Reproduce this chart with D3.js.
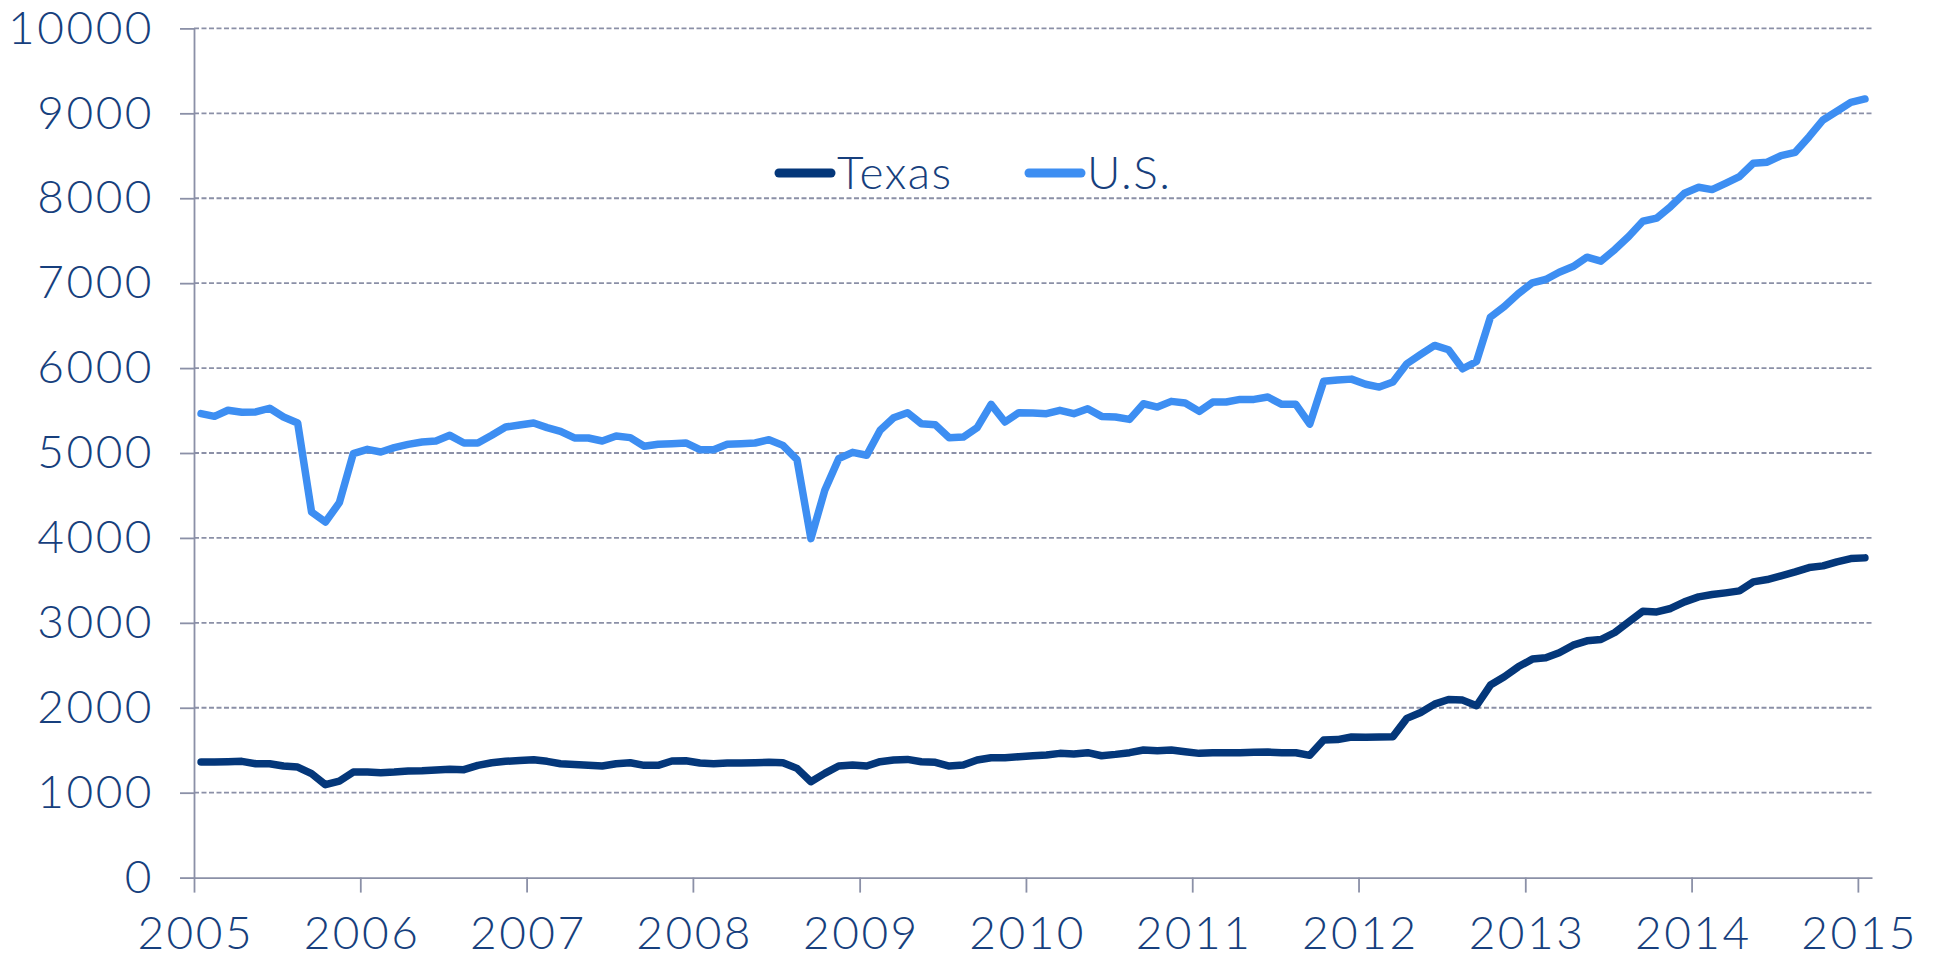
<!DOCTYPE html>
<html>

<head>
    <style>
    body { margin: 0; background: #fff; }
    svg text { font-family: Lato, "Open Sans", sans-serif; font-weight: 300; fill: #173f7d; }
    </style>
</head>

<body>
    <svg width="1938" height="958"></svg>
    <script src="https://d3js.org/d3.v7.min.js"></script>
    <script>

        // monthly values, Jan 2005 .. Jan 2015
        var usValues = [
            5464, 5432, 5503, 5479, 5483, 5527, 5424, 5354, 4305, 4187, 4415, 4992,
            5043, 5012, 5063, 5102, 5130, 5141, 5208, 5118, 5118, 5208, 5306, 5330,
            5354, 5299, 5255, 5177, 5177, 5141, 5200, 5181, 5079, 5102, 5110, 5118,
            5039, 5039, 5102, 5110, 5118, 5157, 5090, 4922, 3992, 4561, 4933, 5008,
            4973, 5267, 5416, 5475, 5345, 5333, 5180, 5188, 5298, 5573, 5365, 5475,
            5471, 5463, 5502, 5463, 5522, 5431, 5424, 5396, 5580, 5541, 5608, 5588,
            5490, 5600, 5600, 5631, 5631, 5659, 5573, 5573, 5340, 5845, 5860, 5870,
            5810, 5776, 5835, 6051, 6161, 6267, 6216, 5992, 6078, 6600, 6725, 6875,
            7004, 7043, 7129, 7196, 7306, 7259, 7396, 7553, 7729, 7765, 7902, 8059,
            8129, 8102, 8176, 8255, 8412, 8424, 8502, 8541, 8725, 8922, 9024, 9129,
            9169
        ];
        var texasValues = [
            1361, 1361, 1365, 1369, 1341, 1341, 1314, 1302, 1224, 1094, 1137, 1243,
            1243, 1235, 1243, 1255, 1259, 1267, 1275, 1271, 1322, 1353, 1369, 1380,
            1388, 1369, 1341, 1333, 1322, 1314, 1341, 1353, 1322, 1322, 1373, 1376,
            1349, 1341, 1349, 1349, 1353, 1357, 1353, 1286, 1129, 1227, 1314, 1325,
            1314, 1365, 1384, 1392, 1365, 1357, 1314, 1325, 1384, 1412, 1412, 1424,
            1435, 1443, 1463, 1455, 1471, 1435, 1451, 1471, 1502, 1494, 1502, 1482,
            1463, 1471, 1471, 1471, 1475, 1478, 1471, 1470, 1440, 1620, 1625, 1655,
            1653, 1655, 1660, 1875, 1945, 2043, 2098, 2090, 2024, 2267, 2365, 2482,
            2573, 2588, 2647, 2737, 2788, 2804, 2886, 3012, 3137, 3129, 3169, 3247,
            3306, 3333, 3353, 3376, 3482, 3510, 3553, 3600, 3651, 3671, 3718, 3757,
            3765
        ];
        var yearTicks = [2005, 2006, 2007, 2008, 2009, 2010, 2011, 2012, 2013, 2014, 2015];
        var yTicks = [0, 1000, 2000, 3000, 4000, 5000, 6000, 7000, 8000, 9000, 10000];
        var seriesNames = ["Texas", "U.S."];
        var seriesColors = ["#04377a", "#3d8ef2"];

        var svg = d3.select("svg"),
            plotLeft = 194, plotRight = 1872, plotTop = 28.4, plotBottom = 877.6,
            gridColor = "#8b90a7";

        var start = new Date(2005, 0, 1);
        var months = usValues.map(function (v, i) { return d3.timeMonth.offset(start, i); });

        var x = d3.scaleTime()
            .domain([start, d3.timeMonth.offset(start, usValues.length)])
            .range([plotLeft, plotRight]);

        var y = d3.scaleLinear()
            .domain([0, 10000])
            .range([plotBottom, plotTop]);

        function xMid(m) {
            return (x(m) + x(d3.timeMonth.offset(m, 1))) / 2;
        }

        // dashed grid
        svg.append("g")
            .selectAll("line")
            .data(yTicks.filter(function (t) { return t > 0; }))
            .enter().append("line")
            .attr("x1", plotLeft).attr("x2", plotRight)
            .attr("y1", function (d) { return y(d); })
            .attr("y2", function (d) { return y(d); })
            .attr("stroke", gridColor)
            .attr("stroke-width", 1.8)
            .attr("stroke-dasharray", "5,2.5");

        var yAxis = svg.append("g")
            .attr("transform", "translate(" + plotLeft + ",0)")
            .call(d3.axisLeft(y).tickValues(yTicks).tickFormat(d3.format("d"))
                .tickSize(14).tickSizeOuter(0).tickPadding(26));

        var xAxis = svg.append("g")
            .attr("transform", "translate(0," + plotBottom + ")")
            .call(d3.axisBottom(x)
                .tickValues(yearTicks.map(function (yr) { return new Date(yr, 0, 1); }))
                .tickFormat(d3.timeFormat("%Y"))
                .tickSize(15).tickSizeOuter(0).tickPadding(24));

        [yAxis, xAxis].forEach(function (ax) {
            ax.selectAll("path, line").attr("stroke", gridColor).attr("stroke-width", 1.8);
            ax.selectAll("text").attr("font-size", 46).attr("fill", "#173f7d")
                .style("letter-spacing", "2.5px")
                .style("font-family", "Lato, 'Open Sans', sans-serif").style("font-weight", 300);
        });
        xAxis.selectAll("text").attr("dx", "1.25px");

        var line = d3.line()
            .x(function (d) { return xMid(d.date); })
            .y(function (d) { return y(d.value); });

        [texasValues, usValues].forEach(function (vals, k) {
            svg.append("path")
                .datum(vals.map(function (v, i) { return { date: months[i], value: v }; }))
                .attr("fill", "none")
                .attr("stroke", seriesColors[k])
                .attr("stroke-width", 7.5)
                .attr("stroke-linejoin", "round")
                .attr("stroke-linecap", "round")
                .attr("d", line);
        });

        // legend
        var legendX = [779, 1029];
        var legend = svg.append("g");
        seriesNames.forEach(function (name, k) {
            legend.append("line")
                .attr("x1", legendX[k]).attr("x2", legendX[k] + 52)
                .attr("y1", 173).attr("y2", 173)
                .attr("stroke", seriesColors[k])
                .attr("stroke-width", 9)
                .attr("stroke-linecap", "round");
            legend.append("text")
                .attr("x", legendX[k] + 58)
                .attr("y", 189)
                .attr("font-size", 46)
                .style("letter-spacing", "1.5px")
                .text(name);
        });

    </script>
</body>

</html>
